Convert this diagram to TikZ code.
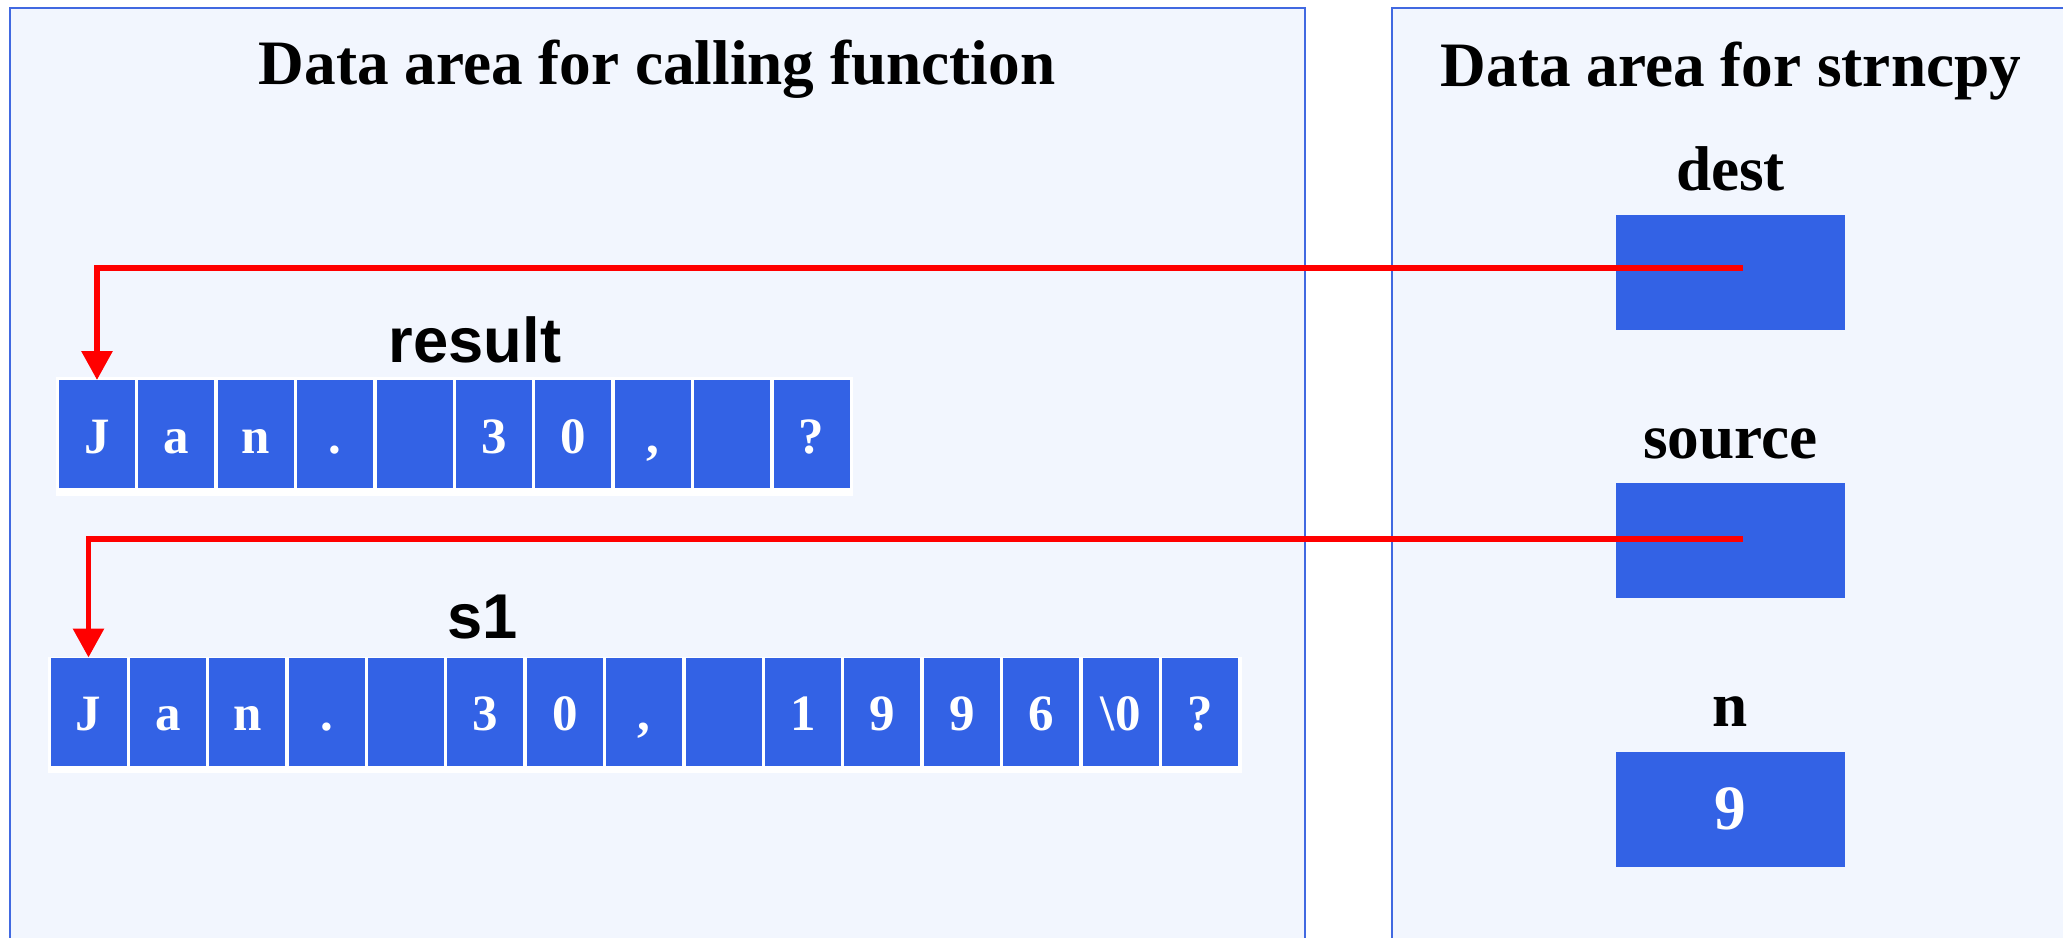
\documentclass[tikz,border=0pt]{standalone}
\usepackage{fontspec}
\setmainfont{Liberation Serif}
\setsansfont{Liberation Sans}
\usepackage{tikz}
\usetikzlibrary{arrows.meta,positioning}
\definecolor{cellblue}{RGB}{51,98,229}
\definecolor{areafill}{RGB}{242,246,254}
\definecolor{arealine}{RGB}{65,105,225}
\definecolor{ptrred}{RGB}{255,0,0}
\tikzset{
  area/.style = {
    draw = arealine,
    fill = areafill,
    line width = 0.02cm
  }
  , % titles of the two data areas
  label-area/.style = {
    font = \fontsize{18}{22}\selectfont\bfseries,
    anchor = base
  }
  , % names of the arrays
  label-array/.style = {
    font = \fontsize{18}{22}\selectfont\sffamily\bfseries,
    anchor = base
  }
  , % one char of an array
  cell/.style = {
    rectangle,
    fill = cellblue,
    text = white,
    font = \fontsize{14.5}{17}\selectfont\bfseries,
    minimum width = 0.76cm,
    minimum height = 1.08cm,
    text height = 0.38cm,
    text depth = 0cm,
    inner sep = 0pt,
    outer sep = 0pt
  }
  , % parameters of strncpy
  param/.style = {
    rectangle,
    fill = cellblue,
    text = white,
    font = \fontsize{18}{22}\selectfont\bfseries,
    minimum width = 2.29cm,
    minimum height = 1.15cm,
    outer sep = 0pt
  }
  , % labels of parameters
  label-param/.style = {
    font = \fontsize{18}{22}\selectfont\bfseries,
    text = black,
    inner sep = 0pt,
    text depth = 0pt,
    yshift = 0.24cm
  }
  , % pointers
  ptr-edge/.style = {
    draw = ptrred,
    line width = 0.06cm,
    -{Triangle[length=0.29cm,width=0.30cm]}
  }
}
\begin{document}
\begin{tikzpicture}
\useasboundingbox (0,0) rectangle (20.63,-9.37);
\clip (0,0) rectangle (20.63,-9.37);
\fill[white] (0,0) rectangle (20.63,-9.37);

% data areas
\draw[area] (0.10,-0.08) rectangle (13.05,-9.6);
\draw[area] (13.92,-0.08) rectangle (21.0,-9.6);
\node [label-area] (title-call) at (6.57,-0.84) {Data area for calling function};
\node [label-area] (title-copy) at (17.31,-0.86) {Data area for strncpy};

% parameters
\node [param, label={[label-param]above:dest}] (dest) at (17.305,-2.725) {};
\node [param, label={[label-param]above:source}] (source) at (17.305,-5.405) {};
\node [param, label={[label-param]above:n}] (n) at (17.305,-8.09) {9};

% result
\node [label-array] (lab-res) at (4.75,-3.62) {result};
\fill[white] (0.56,-3.77) rectangle (8.53,-4.96);
\node [cell] (res1) at (0.97,-4.34) {J};
\node [cell, right = 0.034cm of res1] (res2) {a};
\node [cell, right = 0.034cm of res2] (res3) {n};
\node [cell, right = 0.034cm of res3] (res4) {.};
\node [cell, right = 0.034cm of res4] (res5) {};
\node [cell, right = 0.034cm of res5] (res6) {3};
\node [cell, right = 0.034cm of res6] (res7) {0};
\node [cell, right = 0.034cm of res7] (res8) {,};
\node [cell, right = 0.034cm of res8] (res9) {};
\node [cell, right = 0.034cm of res9] (res10) {?};

% s1
\node [label-array] (lab-s1) at (4.83,-6.38) {s1};
\fill[white] (0.48,-6.565) rectangle (12.42,-7.73);
\node [cell] (str1) at (0.885,-7.115) {J};
\node [cell, right = 0.034cm of str1] (str2) {a};
\node [cell, right = 0.034cm of str2] (str3) {n};
\node [cell, right = 0.034cm of str3] (str4) {.};
\node [cell, right = 0.034cm of str4] (str5) {};
\node [cell, right = 0.034cm of str5] (str6) {3};
\node [cell, right = 0.034cm of str6] (str7) {0};
\node [cell, right = 0.034cm of str7] (str8) {,};
\node [cell, right = 0.034cm of str8] (str9) {};
\node [cell, right = 0.034cm of str9] (str10) {1};
\node [cell, right = 0.034cm of str10] (str11) {9};
\node [cell, right = 0.034cm of str11] (str12) {9};
\node [cell, right = 0.034cm of str12] (str13) {6};
\node [cell, right = 0.034cm of str13] (str14) {\textbackslash 0};
\node [cell, right = 0.034cm of str14] (str15) {?};

% pointers
\draw[ptr-edge] ([xshift=0.12cm, yshift=0.045cm]dest.center) -| (res1.north);
\draw[ptr-edge] ([xshift=0.12cm, yshift=0.015cm]source.center) -| (str1.north);
\end{tikzpicture}
\end{document}
